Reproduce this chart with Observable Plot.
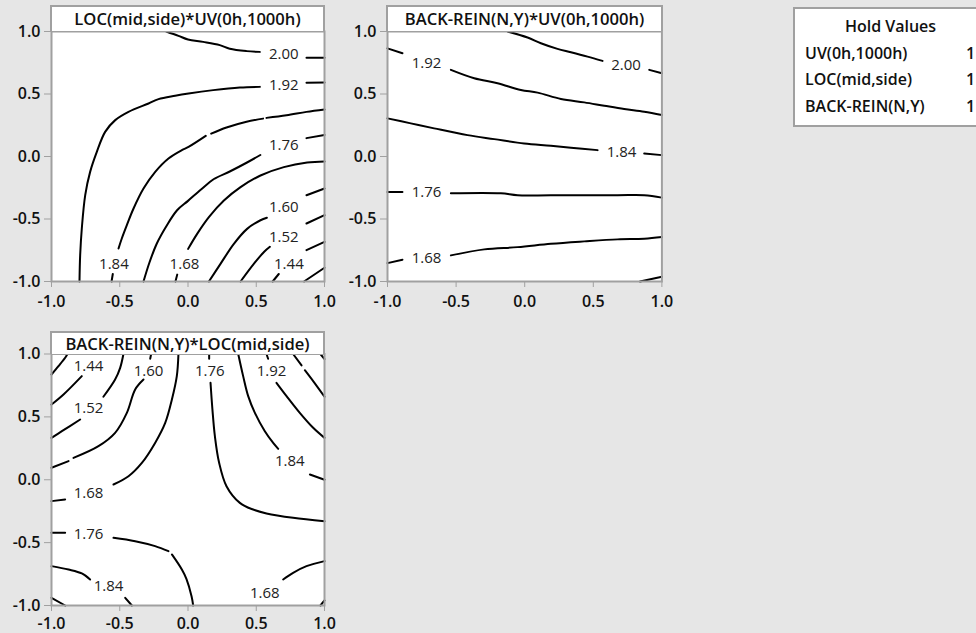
<!DOCTYPE html>
<html>
<head>
<meta charset="utf-8">
<script src="https://cdn.jsdelivr.net/npm/d3@7"></script>
<script src="https://cdn.jsdelivr.net/npm/@observablehq/plot@0.6"></script>
<style>
  body { margin: 0; background: #e6e6e6; }
  #chart { position: relative; width: 976px; height: 633px; overflow: hidden; background: #e6e6e6; font-family: "Open Sans", sans-serif; }
  .panel { position: absolute; }
  .strip { position: absolute; box-sizing: border-box; border: 2px solid #a0a0a0; border-bottom: none; background: #fff;
           font-weight: 600; font-size: 16.6px; color: #111; text-align: center; white-space: nowrap; }
  .legend { position: absolute; left: 793px; top: 7px; width: 195px; height: 120px; box-sizing: border-box;
            border: 2px solid #a0a0a0; background: #fff; font-size: 16px; font-weight: 600; color: #111; }
  .legend .row { position: absolute; left: 10px; height: 27px; line-height: 27px; white-space: nowrap; }
  .legend .val { position: absolute; left: 171px; height: 27px; line-height: 27px; }
  .legend .head { position: absolute; left: 0; width: 100%; text-align: center; height: 27px; line-height: 27px; }
</style>
</head>
<body>
<div id="chart"></div>
<script>
// Axis ticks shared by every panel
const tickValues = [-1, -0.5, 0, 0.5, 1];
const tickLabels = ["-1.0", "-0.5", "0.0", "0.5", "1.0"];

// Panel titles
const panelTitles = ["LOC(mid,side)*UV(0h,1000h)", "BACK-REIN(N,Y)*UV(0h,1000h)", "BACK-REIN(N,Y)*LOC(mid,side)"];

// Factors held at fixed settings
const holdFactors = ["UV(0h,1000h)", "LOC(mid,side)", "BACK-REIN(N,Y)"];
const holdValues = [1, 1, 1];

// Contour paths: [contour id, x, y]; NaN rows break a path where a label sits
const G = NaN;
const locUvLines = [
  ["2.00", -0.16, 1.0], ["2.00", -0.07, 0.965], ["2.00", 0.0, 0.936], ["2.00", 0.111, 0.917], ["2.00", 0.233, 0.891],
  ["2.00", 0.306, 0.862], ["2.00", 0.429, 0.843], ["2.00", 0.526, 0.837], ["2.00", G, G], ["2.00", 0.868, 0.79], ["2.00", 1.0, 0.79],

  ["1.92", -0.795, -1.0], ["1.92", -0.79, -0.789], ["1.92", -0.778, -0.576], ["1.92", -0.753, -0.309], ["1.92", -0.717, -0.123],
  ["1.92", -0.668, 0.037], ["1.92", -0.607, 0.197], ["1.92", -0.533, 0.291], ["1.92", -0.436, 0.357], ["1.92", -0.289, 0.424],
  ["1.92", -0.216, 0.459], ["1.92", -0.094, 0.486], ["1.92", 0.004, 0.504], ["1.92", 0.185, 0.531], ["1.92", 0.38, 0.552],
  ["1.92", 0.526, 0.557], ["1.92", G, G], ["1.92", 0.868, 0.59], ["1.92", 1.0, 0.592],

  ["1.84", -0.56, -1.0], ["1.84", -0.551, -0.94], ["1.84", G, G], ["1.84", -0.509, -0.736], ["1.84", -0.485, -0.656],
  ["1.84", -0.448, -0.549], ["1.84", -0.399, -0.416], ["1.84", -0.326, -0.256], ["1.84", -0.24, -0.123], ["1.84", -0.143, -0.016],
  ["1.84", -0.045, 0.051], ["1.84", 0.004, 0.077], ["1.84", 0.13, 0.165], ["1.84", G, G], ["1.84", 0.17, 0.183],
  ["1.84", 0.282, 0.232], ["1.84", 0.429, 0.278], ["1.84", 0.55, 0.303], ["1.84", G, G], ["1.84", 0.575, 0.309],
  ["1.84", 0.722, 0.33], ["1.84", 0.868, 0.357], ["1.84", 1.0, 0.376],

  ["1.76", -0.326, -1.0], ["1.76", -0.283, -0.85], ["1.76", -0.23, -0.7], ["1.76", -0.16, -0.56], ["1.76", -0.08, -0.43],
  ["1.76", 0.0, -0.355], ["1.76", 0.1, -0.26], ["1.76", 0.19, -0.18], ["1.76", 0.306, -0.12], ["1.76", 0.429, -0.05],
  ["1.76", 0.53, 0.012], ["1.76", G, G], ["1.76", 0.868, 0.147], ["1.76", 1.0, 0.172],

  ["1.68", -0.092, -1.0], ["1.68", -0.079, -0.945], ["1.68", G, G], ["1.68", 0.001, -0.739], ["1.68", 0.067, -0.619],
  ["1.68", 0.153, -0.485], ["1.68", 0.263, -0.352], ["1.68", 0.385, -0.245], ["1.68", 0.531, -0.152], ["1.68", 0.702, -0.085],
  ["1.68", 0.873, -0.048], ["1.68", 1.0, -0.04],

  ["1.60", 0.153, -1.0], ["1.60", 0.238, -0.859], ["1.60", 0.336, -0.699], ["1.60", 0.433, -0.579], ["1.60", 0.531, -0.51],
  ["1.60", 0.578, -0.49], ["1.60", G, G], ["1.60", 0.868, -0.31], ["1.60", 1.0, -0.256],

  ["1.52", 0.385, -1.0], ["1.52", 0.482, -0.859], ["1.52", 0.56, -0.76], ["1.52", 0.6, -0.722], ["1.52", G, G],
  ["1.52", 0.868, -0.536], ["1.52", 1.0, -0.469],

  ["1.44", 0.62, -1.0], ["1.44", 0.665, -0.94], ["1.44", G, G], ["1.44", 0.868, -0.749], ["1.44", 1.0, -0.683],

  ["1.36", 0.85, -1.0], ["1.36", 1.0, -0.89]
];
const locUvLabels = [
  ["2.00", 0.702, 0.821], ["1.92", 0.702, 0.568], ["1.76", 0.702, 0.088], ["1.60", 0.702, -0.405],
  ["1.52", 0.702, -0.645], ["1.44", 0.739, -0.859], ["1.84", -0.543, -0.859], ["1.68", -0.026, -0.859]
];

const backUvLines = [
  ["2.00", -0.125, 1.0], ["2.00", 0.021, 0.952], ["2.00", 0.118, 0.906], ["2.00", 0.239, 0.861], ["2.00", 0.337, 0.834],
  ["2.00", 0.458, 0.799], ["2.00", 0.567, 0.765], ["2.00", G, G], ["2.00", 0.908, 0.693], ["2.00", 1.0, 0.666],

  ["1.92", -1.0, 0.865], ["1.92", -0.891, 0.826], ["1.92", G, G], ["1.92", -0.538, 0.693], ["1.92", -0.368, 0.626],
  ["1.92", -0.198, 0.586], ["1.92", -0.028, 0.532], ["1.92", 0.094, 0.511], ["1.92", 0.264, 0.46], ["1.92", 0.434, 0.433],
  ["1.92", 0.58, 0.406], ["1.92", 0.725, 0.38], ["1.92", 0.871, 0.358], ["1.92", 1.0, 0.332],

  ["1.84", -1.0, 0.305], ["1.84", -0.83, 0.265], ["1.84", -0.66, 0.225], ["1.84", -0.417, 0.171], ["1.84", -0.222, 0.139],
  ["1.84", -0.004, 0.104], ["1.84", 0.191, 0.086], ["1.84", 0.337, 0.07], ["1.84", 0.531, 0.051], ["1.84", G, G],
  ["1.84", 0.871, 0.024], ["1.84", 1.0, 0.011],

  ["1.76", -1.0, -0.283], ["1.76", -0.891, -0.283], ["1.76", G, G], ["1.76", -0.538, -0.294], ["1.76", -0.174, -0.294],
  ["1.76", -0.052, -0.31], ["1.76", 0.191, -0.31], ["1.76", 0.677, -0.31], ["1.76", 0.871, -0.31], ["1.76", 1.0, -0.329],

  ["1.68", -1.0, -0.853], ["1.68", -0.891, -0.826], ["1.68", G, G], ["1.68", -0.538, -0.791], ["1.68", -0.295, -0.743],
  ["1.68", -0.052, -0.725], ["1.68", 0.191, -0.698], ["1.68", 0.434, -0.679], ["1.68", 0.677, -0.663], ["1.68", 0.871, -0.658],
  ["1.68", 1.0, -0.644],

  ["1.60", 0.84, -1.0], ["1.60", 1.0, -0.962]
];
const backUvLabels = [
  ["2.00", 0.738, 0.733], ["1.92", -0.716, 0.746], ["1.84", 0.706, 0.032], ["1.76", -0.716, -0.283], ["1.68", -0.716, -0.81]
];

const backLocLines = [
  ["1.36", -1.0, 0.837], ["1.36", -0.949, 0.903], ["1.36", -0.9, 0.97], ["1.36", -0.883, 1.0],

  ["1.44", -1.0, 0.598], ["1.44", -0.912, 0.678], ["1.44", -0.778, 0.824],

  ["1.52", -1.0, 0.333], ["1.52", -0.924, 0.386], ["1.52", -0.79, 0.479], ["1.52", G, G], ["1.52", -0.62, 0.66],
  ["1.52", -0.534, 0.797], ["1.52", -0.497, 0.89], ["1.52", -0.473, 1.0],

  ["1.60", -1.0, 0.095], ["1.60", -0.875, 0.148], ["1.60", G, G], ["1.60", -0.839, 0.174], ["1.60", -0.656, 0.267],
  ["1.60", -0.534, 0.373], ["1.60", -0.448, 0.532], ["1.60", -0.387, 0.718], ["1.60", -0.326, 0.797], ["1.60", G, G],
  ["1.60", -0.277, 0.962], ["1.60", -0.27, 1.0],

  ["1.68 upper", -1.0, -0.17], ["1.68 upper", -0.9, -0.157], ["1.68 upper", G, G], ["1.68 upper", -0.546, -0.038],
  ["1.68 upper", -0.436, 0.028], ["1.68 upper", -0.338, 0.134], ["1.68 upper", -0.241, 0.293], ["1.68 upper", -0.167, 0.452],
  ["1.68 upper", -0.118, 0.638], ["1.68 upper", -0.082, 0.824], ["1.68 upper", -0.07, 1.0],

  ["1.76 lower", -1.0, -0.422], ["1.76 lower", -0.9, -0.422], ["1.76 lower", G, G], ["1.76 lower", -0.546, -0.462],
  ["1.76 lower", -0.387, -0.489], ["1.76 lower", -0.241, -0.528], ["1.76 lower", -0.143, -0.568], ["1.76 lower", G, G],
  ["1.76 lower", -0.118, -0.594], ["1.76 lower", -0.045, -0.714], ["1.76 lower", -0.011, -0.79], ["1.76 lower", 0.026, -0.926],
  ["1.76 lower", 0.038, -1.0],

  ["1.76 upper", 0.155, 1.0], ["1.76 upper", 0.155, 0.962], ["1.76 upper", G, G], ["1.76 upper", 0.165, 0.771],
  ["1.76 upper", 0.179, 0.558], ["1.76 upper", 0.197, 0.346], ["1.76 upper", 0.228, 0.135], ["1.76 upper", 0.282, -0.051],
  ["1.76 upper", 0.38, -0.184], ["1.76 upper", 0.477, -0.237], ["1.76 upper", 0.575, -0.268], ["1.76 upper", 0.77, -0.303],
  ["1.76 upper", 1.0, -0.33],

  ["1.84 lower", -1.0, -0.687], ["1.84 lower", -0.875, -0.714], ["1.84 lower", -0.778, -0.745], ["1.84 lower", -0.717, -0.793],
  ["1.84 lower", G, G], ["1.84 lower", -0.46, -0.939], ["1.84 lower", -0.411, -1.0],

  ["1.84 upper", 0.368, 1.0], ["1.84 upper", 0.404, 0.824], ["1.84 upper", 0.441, 0.665], ["1.84 upper", 0.49, 0.532],
  ["1.84 upper", 0.563, 0.386], ["1.84 upper", 0.624, 0.293], ["1.84 upper", 0.661, 0.246], ["1.84 upper", G, G],
  ["1.84 upper", 0.893, 0.042], ["1.84 upper", 1.0, 0.0],

  ["1.92 lower", -1.0, -0.939], ["1.92 lower", -0.9, -1.0],

  ["1.92 upper", 0.575, 1.0], ["1.92 upper", 0.587, 0.962], ["1.92 upper", G, G], ["1.92 upper", 0.648, 0.771],
  ["1.92 upper", 0.722, 0.665], ["1.92 upper", 0.819, 0.532], ["1.92 upper", 0.917, 0.413], ["1.92 upper", 1.0, 0.333],

  ["2.00", 0.77, 1.0], ["2.00", 0.832, 0.909], ["2.00", G, G], ["2.00", 0.856, 0.871], ["2.00", 0.917, 0.784], ["2.00", 1.0, 0.66],

  ["2.08", 0.97, 1.0], ["2.08", 1.0, 0.96],

  ["1.68 lower", 1.0, -0.647], ["1.68 lower", 0.868, -0.687], ["1.68 lower", 0.77, -0.74], ["1.68 lower", 0.697, -0.793],

  ["1.60 lower", 0.97, -1.0], ["1.60 lower", 1.0, -0.96]
];
const backLocLabels = [
  ["1.44", -0.729, 0.903], ["1.52", -0.729, 0.572], ["1.60", -0.289, 0.863], ["1.68", -0.729, -0.104],
  ["1.76", -0.729, -0.435], ["1.84", -0.582, -0.846], ["1.76", 0.16, 0.863], ["1.92", 0.612, 0.863],
  ["1.84", 0.746, 0.148], ["1.68", 0.563, -0.899]
];

const chart = document.getElementById("chart");
const fmt = d => tickLabels[tickValues.indexOf(d)];

function contourPanel({lines, labels, title, left, top, width, height, marginLeft, marginRight, marginTop, marginBottom, stripHeight, xPadding}) {
  const svg = Plot.plot({
    width, height, marginLeft, marginRight, marginTop, marginBottom,
    x: {domain: [-1, 1]},
    y: {domain: [-1, 1]},
    style: {background: "transparent", fontFamily: '"Open Sans", sans-serif', overflow: "visible"},
    marks: [
      Plot.frame({fill: "white", stroke: "none"}),
      Plot.line(lines, {x: d => d[1], y: d => d[2], z: d => d[0], stroke: "#000", strokeWidth: 2, curve: "catmull-rom"}),
      Plot.text(labels, {x: d => d[1], y: d => d[2], text: d => d[0], fontSize: 15, fill: "#222"}),
      Plot.axisX(tickValues, {tickFormat: fmt, tickSize: 6, tickPadding: xPadding, stroke: "#a0a0a0", fill: "#111",
                              fontSize: 16, fontWeight: 600, label: null}),
      Plot.axisY(tickValues, {tickFormat: fmt, tickSize: 7, tickPadding: 4, stroke: "#a0a0a0", fill: "#111",
                              fontSize: 16, fontWeight: 600, label: null}),
      Plot.frame({stroke: "#a0a0a0", strokeWidth: 2})
    ]
  });
  const wrap = document.createElement("div");
  wrap.className = "panel";
  wrap.style.left = left + "px";
  wrap.style.top = top + "px";
  wrap.appendChild(svg);
  chart.appendChild(wrap);

  const strip = document.createElement("div");
  strip.className = "strip";
  const plotW = width - marginLeft - marginRight;
  strip.style.left = (left + marginLeft - 1) + "px";
  strip.style.top = (top + marginTop - stripHeight) + "px";
  strip.style.width = (plotW + 2) + "px";
  strip.style.height = stripHeight + "px";
  strip.style.lineHeight = (stripHeight - 2) + "px";
  strip.textContent = title;
  chart.appendChild(strip);
}

contourPanel({lines: locUvLines, labels: locUvLabels, title: panelTitles[0], left: 0, top: 0,
  width: 340, height: 320, marginLeft: 51, marginRight: 16, marginTop: 31, marginBottom: 39, stripHeight: 26, xPadding: 8});
contourPanel({lines: backUvLines, labels: backUvLabels, title: panelTitles[1], left: 336.3, top: 0,
  width: 340, height: 320, marginLeft: 51, marginRight: 14.6, marginTop: 31, marginBottom: 39, stripHeight: 26, xPadding: 8});
contourPanel({lines: backLocLines, labels: backLocLabels, title: panelTitles[2], left: 0, top: 322,
  width: 340, height: 311, marginLeft: 51, marginRight: 16, marginTop: 31.5, marginBottom: 28, stripHeight: 23, xPadding: 6});

// Hold values box
const legend = document.createElement("div");
legend.className = "legend";
const head = document.createElement("div");
head.className = "head";
head.style.top = "4px";
head.textContent = "Hold Values";
legend.appendChild(head);
holdFactors.forEach((name, i) => {
  const row = document.createElement("div");
  row.className = "row";
  row.style.top = (4 + 26.7 * (i + 1)) + "px";
  row.textContent = name;
  legend.appendChild(row);
  const val = document.createElement("div");
  val.className = "val";
  val.style.top = (4 + 26.7 * (i + 1)) + "px";
  val.textContent = holdValues[i];
  legend.appendChild(val);
});
chart.appendChild(legend);
</script>
</body>
</html>
